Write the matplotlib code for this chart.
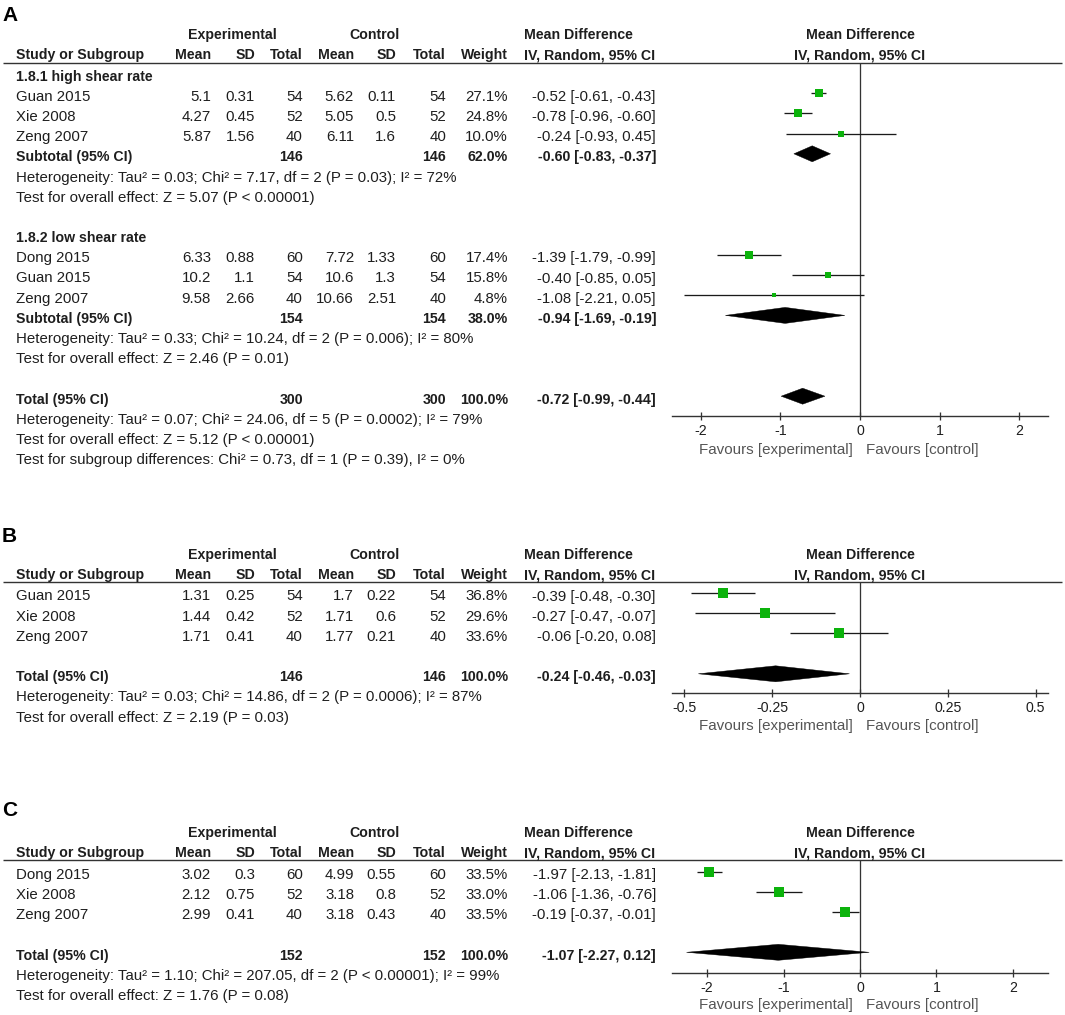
import matplotlib
matplotlib.use('Agg')
import matplotlib.pyplot as plt
from matplotlib.patches import Polygon

plt.rcParams['font.family'] = ['Liberation Sans', 'DejaVu Sans']

# ---------------- data ----------------
# Panel A, subgroup 1.8.1 high shear rate
a1_name = '1.8.1 high shear rate'
a1_studies = ['Guan 2015', 'Xie 2008', 'Zeng 2007']
a1_exp_mean = [5.1, 4.27, 5.87]
a1_exp_sd = [0.31, 0.45, 1.56]
a1_exp_n = [54, 52, 40]
a1_ctl_mean = [5.62, 5.05, 6.11]
a1_ctl_sd = [0.11, 0.5, 1.6]
a1_ctl_n = [54, 52, 40]
a1_weight = [27.1, 24.8, 10.0]
a1_md = [-0.52, -0.78, -0.24]
a1_lo = [-0.61, -0.96, -0.93]
a1_hi = [-0.43, -0.60, 0.45]
a1_sub = (146, 146, 62.0, -0.60, -0.83, -0.37)
a1_het = 'Heterogeneity: Tau² = 0.03; Chi² = 7.17, df = 2 (P = 0.03); I² = 72%'
a1_test = 'Test for overall effect: Z = 5.07 (P < 0.00001)'

# Panel A, subgroup 1.8.2 low shear rate
a2_name = '1.8.2 low shear rate'
a2_studies = ['Dong 2015', 'Guan 2015', 'Zeng 2007']
a2_exp_mean = [6.33, 10.2, 9.58]
a2_exp_sd = [0.88, 1.1, 2.66]
a2_exp_n = [60, 54, 40]
a2_ctl_mean = [7.72, 10.6, 10.66]
a2_ctl_sd = [1.33, 1.3, 2.51]
a2_ctl_n = [60, 54, 40]
a2_weight = [17.4, 15.8, 4.8]
a2_md = [-1.39, -0.40, -1.08]
a2_lo = [-1.79, -0.85, -2.21]
a2_hi = [-0.99, 0.05, 0.05]
a2_sub = (154, 154, 38.0, -0.94, -1.69, -0.19)
a2_het = 'Heterogeneity: Tau² = 0.33; Chi² = 10.24, df = 2 (P = 0.006); I² = 80%'
a2_test = 'Test for overall effect: Z = 2.46 (P = 0.01)'

a_total = (300, 300, 100.0, -0.72, -0.99, -0.44)
a_het = 'Heterogeneity: Tau² = 0.07; Chi² = 24.06, df = 5 (P = 0.0002); I² = 79%'
a_test = 'Test for overall effect: Z = 5.12 (P < 0.00001)'
a_subdiff = 'Test for subgroup differences: Chi² = 0.73, df = 1 (P = 0.39), I² = 0%'
a_ticks = [-2, -1, 0, 1, 2]
a_ticklabels = ['-2', '-1', '0', '1', '2']

# Panel B
b_studies = ['Guan 2015', 'Xie 2008', 'Zeng 2007']
b_exp_mean = [1.31, 1.44, 1.71]
b_exp_sd = [0.25, 0.42, 0.41]
b_exp_n = [54, 52, 40]
b_ctl_mean = [1.7, 1.71, 1.77]
b_ctl_sd = [0.22, 0.6, 0.21]
b_ctl_n = [54, 52, 40]
b_weight = [36.8, 29.6, 33.6]
b_md = [-0.39, -0.27, -0.06]
b_lo = [-0.48, -0.47, -0.20]
b_hi = [-0.30, -0.07, 0.08]
b_total = (146, 146, 100.0, -0.24, -0.46, -0.03)
b_het = 'Heterogeneity: Tau² = 0.03; Chi² = 14.86, df = 2 (P = 0.0006); I² = 87%'
b_test = 'Test for overall effect: Z = 2.19 (P = 0.03)'
b_ticks = [-0.5, -0.25, 0, 0.25, 0.5]
b_ticklabels = ['-0.5', '-0.25', '0', '0.25', '0.5']

# Panel C
c_studies = ['Dong 2015', 'Xie 2008', 'Zeng 2007']
c_exp_mean = [3.02, 2.12, 2.99]
c_exp_sd = [0.3, 0.75, 0.41]
c_exp_n = [60, 52, 40]
c_ctl_mean = [4.99, 3.18, 3.18]
c_ctl_sd = [0.55, 0.8, 0.43]
c_ctl_n = [60, 52, 40]
c_weight = [33.5, 33.0, 33.5]
c_md = [-1.97, -1.06, -0.19]
c_lo = [-2.13, -1.36, -0.37]
c_hi = [-1.81, -0.76, -0.01]
c_total = (152, 152, 100.0, -1.07, -2.27, 0.12)
c_het = 'Heterogeneity: Tau² = 1.10; Chi² = 207.05, df = 2 (P < 0.00001); I² = 99%'
c_test = 'Test for overall effect: Z = 1.76 (P = 0.08)'
c_ticks = [-2, -1, 0, 1, 2]
c_ticklabels = ['-2', '-1', '0', '1', '2']

# ---------------- layout / style ----------------
W, H, DPI = 1065, 1015, 100
PX = 72.0 / DPI
FS = 10.8
FSB = 10.2
FS_TICK = 10.2
FS_FAV = 10.9
TXT = '#1e1e1e'
GREY = '#555555'
GREEN = '#0cb30c'
LINEC = '#333333'
ROWH = 20.2
MARK_DY = -3.5

COL_NAME = 15.5
COL_R = [211, 255, 303, 354, 396, 446, 508]
COL_CI = 656
COL_CI_HDR = 523.5
EXP_X, CTL_X = 232, 374
FOREST_L, FOREST_R, ZERO_X = 672, 1048, 860
LINE_R = 1062

fig = plt.figure(figsize=(W / DPI, H / DPI), dpi=DPI)
tab = fig.add_axes([0, 0, 1, 1])
tab.set_xlim(0, W)
tab.set_ylim(H, 0)
tab.axis('off')


def t(x, y, s, ha='left', bold=False, color=TXT, size=None):
    if size is None:
        size = FSB if bold else FS
    tab.text(x, y, s, ha=ha, va='center', fontsize=size, color=color,
             fontweight='bold' if bold else 'normal')


def fmt_ci(md, lo, hi):
    return f'{md:.2f} [{lo:.2f}, {hi:.2f}]'


def draw_panel(label, label_y, h1_y, h2_y, ul_y, y0, axis_y, xlim,
               ticks, ticklabels, fav_y, rows):
    t(2, label_y, label, bold=True, size=15, color='#000000')
    # header row 1
    t(EXP_X, h1_y, 'Experimental', ha='center', bold=True)
    t(CTL_X, h1_y, 'Control', ha='center', bold=True)
    t(COL_CI_HDR, h1_y, 'Mean Difference', bold=True)
    t(ZERO_X, h1_y, 'Mean Difference', ha='center', bold=True)
    # header row 2
    t(COL_NAME, h2_y, 'Study or Subgroup', bold=True)
    for x, s in zip(COL_R, ['Mean', 'SD', 'Total', 'Mean', 'SD', 'Total', 'Weight']):
        t(x, h2_y, s, ha='right', bold=True)
    t(COL_CI_HDR, h2_y, 'IV, Random, 95% CI', bold=True)
    t(ZERO_X, h2_y, 'IV, Random, 95% CI', ha='center', bold=True)
    tab.plot([3, LINE_R], [ul_y, ul_y], color=LINEC, lw=1.4 * PX, solid_capstyle='butt')

    # forest axes
    ax = fig.add_axes([FOREST_L / W, 1 - axis_y / H,
                       (FOREST_R - FOREST_L) / W, (axis_y - ul_y) / H])
    ax.set_xlim(*xlim)
    ax.set_ylim(axis_y, ul_y)
    ax.patch.set_alpha(0)
    for sp in ['top', 'right', 'left']:
        ax.spines[sp].set_visible(False)
    ax.spines['bottom'].set_color(LINEC)
    ax.spines['bottom'].set_linewidth(1.4 * PX)
    ax.set_yticks([])
    ax.set_xticks(ticks)
    ax.set_xticklabels(ticklabels)
    ax.tick_params(axis='x', direction='inout', length=8 * PX, width=1.3 * PX,
                   color=LINEC, labelsize=FS_TICK, labelcolor=TXT, pad=3.0)
    ax.axvline(0, color=LINEC, lw=1.3 * PX, zorder=1)

    for k, row in enumerate(rows):
        if row is None:
            continue
        y = y0 + k * ROWH
        kind = row[0]
        if kind == 'group':
            t(COL_NAME, y, row[1], bold=True)
        elif kind == 'note':
            t(COL_NAME, y, row[1])
        elif kind == 'study':
            _, name, em, es, en, cm, cs, cn, w, md, lo, hi = row
            t(COL_NAME, y, name)
            vals = [f'{em:g}', f'{es:g}', f'{en}', f'{cm:g}', f'{cs:g}', f'{cn}', f'{w:.1f}%']
            for x, s in zip(COL_R, vals):
                t(x, y, s, ha='right')
            t(COL_CI, y, fmt_ci(md, lo, hi), ha='right')
            ym = y + MARK_DY
            ax.hlines(ym, lo, hi, color='#1a1a1a', lw=1.3 * PX, zorder=2)
            side = 1.7 * (w ** 0.5)
            ax.plot([md], [ym], marker='s', ms=side * PX, color=GREEN,
                    mec=GREEN, mew=0, ls='none', zorder=3)
        elif kind == 'summary':
            _, name, ne, nc, w, md, lo, hi = row
            t(COL_NAME, y, name, bold=True)
            t(COL_R[2], y, f'{ne}', ha='right', bold=True)
            t(COL_R[5], y, f'{nc}', ha='right', bold=True)
            t(COL_R[6], y, f'{w:.1f}%', ha='right', bold=True)
            t(COL_CI, y, fmt_ci(md, lo, hi), ha='right', bold=True)
            ym = y + MARK_DY
            hh = 8.0
            ax.add_patch(Polygon([(lo, ym), (md, ym - hh), (hi, ym), (md, ym + hh)],
                                 closed=True, fc='#000000', ec='#000000', lw=0.3, zorder=3))

    t(ZERO_X - 7, fav_y, 'Favours [experimental]', ha='right', color=GREY, size=FS_FAV)
    t(ZERO_X + 6, fav_y, 'Favours [control]', ha='left', color=GREY, size=FS_FAV)
    return ax


def study_rows(studies, em, es, en, cm, cs, cn, w, md, lo, hi):
    return [('study',) + tuple(r) for r in zip(studies, em, es, en, cm, cs, cn, w, md, lo, hi)]


rows_a = ([('group', a1_name)]
          + study_rows(a1_studies, a1_exp_mean, a1_exp_sd, a1_exp_n, a1_ctl_mean,
                       a1_ctl_sd, a1_ctl_n, a1_weight, a1_md, a1_lo, a1_hi)
          + [('summary', 'Subtotal (95% CI)') + a1_sub, ('note', a1_het), ('note', a1_test), None,
             ('group', a2_name)]
          + study_rows(a2_studies, a2_exp_mean, a2_exp_sd, a2_exp_n, a2_ctl_mean,
                       a2_ctl_sd, a2_ctl_n, a2_weight, a2_md, a2_lo, a2_hi)
          + [('summary', 'Subtotal (95% CI)') + a2_sub, ('note', a2_het), ('note', a2_test), None,
             ('summary', 'Total (95% CI)') + a_total, ('note', a_het), ('note', a_test),
             ('note', a_subdiff)])

rows_b = (study_rows(b_studies, b_exp_mean, b_exp_sd, b_exp_n, b_ctl_mean, b_ctl_sd,
                     b_ctl_n, b_weight, b_md, b_lo, b_hi)
          + [None, ('summary', 'Total (95% CI)') + b_total, ('note', b_het), ('note', b_test)])

rows_c = (study_rows(c_studies, c_exp_mean, c_exp_sd, c_exp_n, c_ctl_mean, c_ctl_sd,
                     c_ctl_n, c_weight, c_md, c_lo, c_hi)
          + [None, ('summary', 'Total (95% CI)') + c_total, ('note', c_het), ('note', c_test)])

draw_panel('A', 15, 35, 55, 62.5, 76.5, 416, (-2.36, 2.36), a_ticks, a_ticklabels,
           450, rows_a)
draw_panel('B', 536, 555, 575, 581.5, 596.5, 693, (-0.535, 0.535), b_ticks, b_ticklabels,
           726, rows_b)
draw_panel('C', 810, 833, 853, 860, 875, 973, (-2.46, 2.46), c_ticks, c_ticklabels,
           1005, rows_c)

fig.savefig('out.png', dpi=DPI, facecolor='white')
